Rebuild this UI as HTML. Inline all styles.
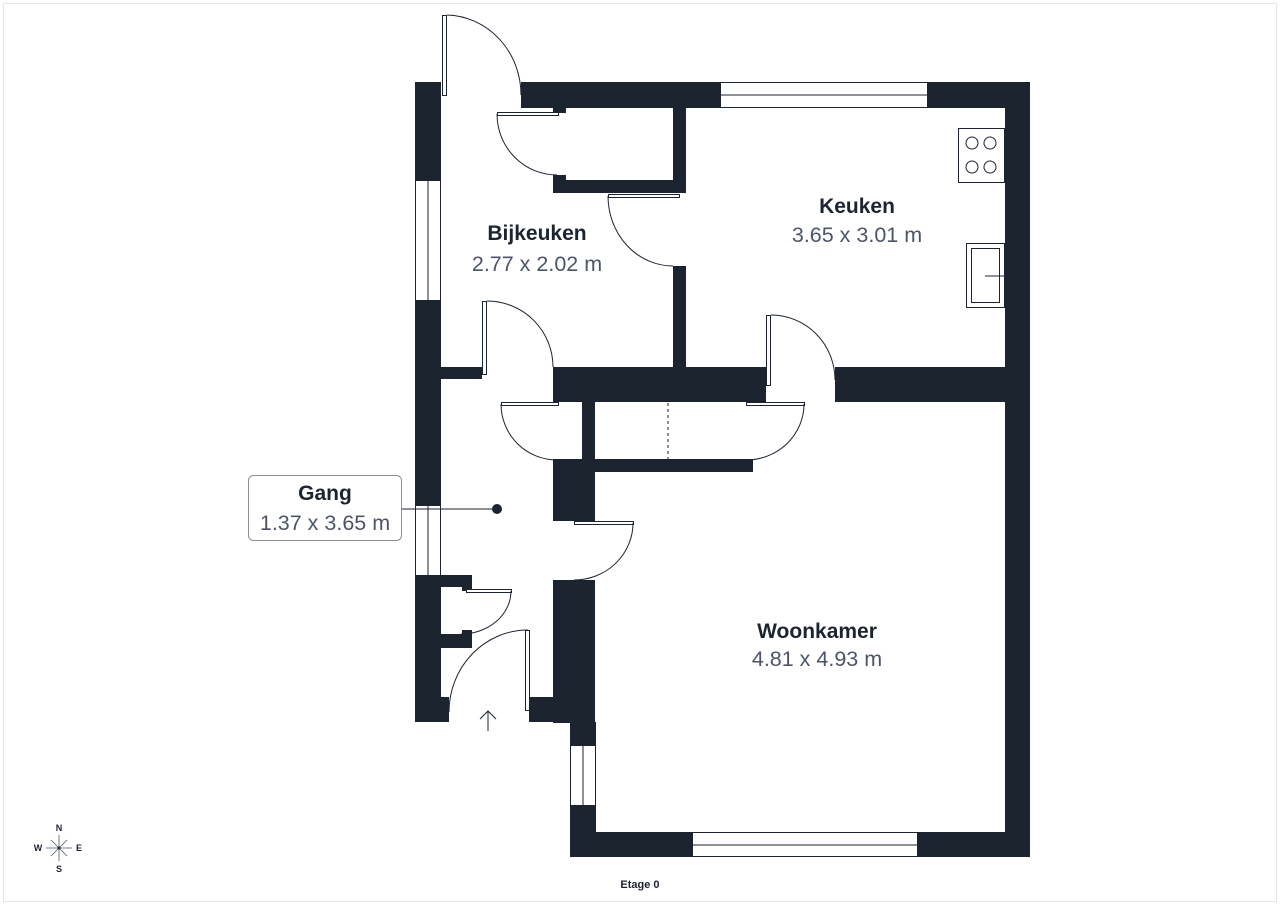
<!DOCTYPE html>
<html><head><meta charset="utf-8"><style>
html,body{margin:0;padding:0;background:#fff;}
svg{display:block;}
text{font-family:"Liberation Sans",sans-serif;}
</style></head><body>
<svg width="1280" height="905" viewBox="0 0 1280 905" xmlns="http://www.w3.org/2000/svg">
<rect x="3.5" y="3.5" width="1273" height="898" fill="#fff" stroke="#e4e6ea" stroke-width="1"/>
<g fill="#1c2430">
<rect x="415" y="82" width="26" height="640"/>
<rect x="521" y="82" width="509" height="26"/>
<rect x="1005" y="82" width="25" height="775"/>
<rect x="570" y="832" width="460" height="25"/>
<rect x="570" y="722" width="26" height="135"/>
<rect x="553" y="108" width="13" height="5"/>
<rect x="673" y="108" width="13" height="85"/>
<rect x="553" y="180" width="133" height="13"/>
<rect x="553" y="175" width="13" height="18"/>
<rect x="673" y="266" width="13" height="102"/>
<rect x="553" y="367" width="213" height="35"/>
<rect x="835" y="367" width="170" height="35"/>
<rect x="441" y="367" width="41" height="12"/>
<rect x="582" y="402" width="13" height="58"/>
<rect x="582" y="459" width="171" height="13"/>
<rect x="553" y="459" width="42" height="62"/>
<rect x="553" y="580" width="42" height="143"/>
<rect x="529" y="697" width="41" height="25"/>
<rect x="441" y="575" width="31" height="12"/>
<rect x="462" y="585" width="10" height="6"/>
<rect x="441" y="634" width="31" height="14"/>
<rect x="462" y="630" width="10" height="6"/>
<rect x="441" y="697" width="8" height="25"/>
</g>
<g fill="#fff" stroke="#1c2430" stroke-width="1">
<rect x="415.5" y="180.5" width="25" height="120"/><line x1="428" y1="181" x2="428" y2="300"/>
<rect x="415.5" y="505.5" width="25" height="70"/><line x1="428" y1="506" x2="428" y2="575"/>
<rect x="720.5" y="82.5" width="207" height="25"/><line x1="721" y1="95" x2="927" y2="95"/>
<rect x="692.5" y="832.5" width="225" height="24"/><line x1="693" y1="845" x2="917" y2="845"/>
<rect x="570.5" y="745.5" width="25" height="60"/><line x1="583" y1="746" x2="583" y2="805"/>
</g>
<g fill="#fff" stroke="#1c2430" stroke-width="1">
<rect x="442.5" y="15.5" width="4" height="80"/>
<rect x="497.5" y="112.5" width="61" height="3"/>
<rect x="608.5" y="194.5" width="71" height="3"/>
<rect x="482.5" y="301.5" width="4" height="73"/>
<rect x="766.5" y="315.5" width="4" height="70"/>
<rect x="501.5" y="402.5" width="57" height="3"/>
<rect x="746.5" y="402.5" width="58" height="3"/>
<rect x="574.5" y="521.5" width="59" height="3"/>
<rect x="466.5" y="589.5" width="45" height="3"/>
<rect x="525.5" y="630.5" width="4" height="80"/>
</g>
<g fill="none" stroke="#1c2430" stroke-width="1">
<path d="M447 15 A76 80 0 0 1 521 95"/>
<path d="M497 114 A60 61 0 0 0 557 175"/>
<path d="M608 196 A65 70 0 0 0 673 266"/>
<path d="M487 301 A66 66 0 0 1 553 367"/>
<path d="M771 315 A64 65 0 0 1 835 380"/>
<path d="M501 404 A56 56 0 0 0 557 460"/>
<path d="M804 404 A58 56 0 0 1 746 460"/>
<path d="M633 523 A59 57 0 0 1 574 580"/>
<path d="M511 591 A50 43 0 0 1 461 634"/>
<path d="M528 630 A79 82 0 0 0 449 712"/>
<line x1="668" y1="403" x2="668" y2="459" stroke-dasharray="3,3"/>
<line x1="488" y1="731" x2="488" y2="711"/>
<path d="M480 719 L488 711 L496 719"/>
<rect x="958.5" y="128.5" width="46" height="54"/>
<circle cx="972" cy="143" r="6"/><circle cx="990" cy="143" r="6"/>
<circle cx="972" cy="167" r="6"/><circle cx="990" cy="167" r="6"/>
<rect x="966.5" y="243.5" width="38" height="64"/>
<rect x="971.5" y="248.5" width="28" height="54"/>
<line x1="985" y1="276" x2="1004" y2="276"/>
</g>
<line x1="402" y1="509" x2="497" y2="509" stroke="#1c2430" stroke-width="1"/>
<circle cx="497" cy="509" r="5" fill="#1c2430"/>
<rect x="248.5" y="475.5" width="153" height="65" rx="5" fill="#fff" stroke="#8a9099" stroke-width="1"/>
<g text-anchor="middle">
<text x="325" y="500" font-size="21" font-weight="bold" fill="#1c2430">Gang</text>
<text x="325" y="530" font-size="21.5" fill="#4c5566">1.37 x 3.65 m</text>
<text x="537" y="240" font-size="21" font-weight="bold" fill="#1c2430">Bijkeuken</text>
<text x="537" y="271" font-size="21.5" fill="#4c5566">2.77 x 2.02 m</text>
<text x="857" y="213" font-size="21" font-weight="bold" fill="#1c2430">Keuken</text>
<text x="857" y="242" font-size="21.5" fill="#4c5566">3.65 x 3.01 m</text>
<text x="817" y="638" font-size="21" font-weight="bold" fill="#1c2430">Woonkamer</text>
<text x="817" y="666" font-size="21.5" fill="#4c5566">4.81 x 4.93 m</text>
<text x="640" y="888" font-size="11" font-weight="bold" fill="#1c2430">Etage 0</text>
<text x="59" y="831" font-size="9" font-weight="bold" fill="#1c2430">N</text>
<text x="59" y="872" font-size="9" font-weight="bold" fill="#1c2430">S</text>
<text x="38" y="851" font-size="9" font-weight="bold" fill="#1c2430">W</text>
<text x="79" y="851" font-size="9" font-weight="bold" fill="#1c2430">E</text>
</g>
<g stroke="#4c5566" stroke-width="0.8">
<line x1="59" y1="835" x2="59" y2="861"/><line x1="46" y1="848" x2="72" y2="848"/>
<line x1="51" y1="840" x2="67" y2="856"/><line x1="67" y1="840" x2="51" y2="856"/>
</g>
<circle cx="59" cy="848" r="1.5" fill="#1c2430"/>
</svg>
</body></html>
